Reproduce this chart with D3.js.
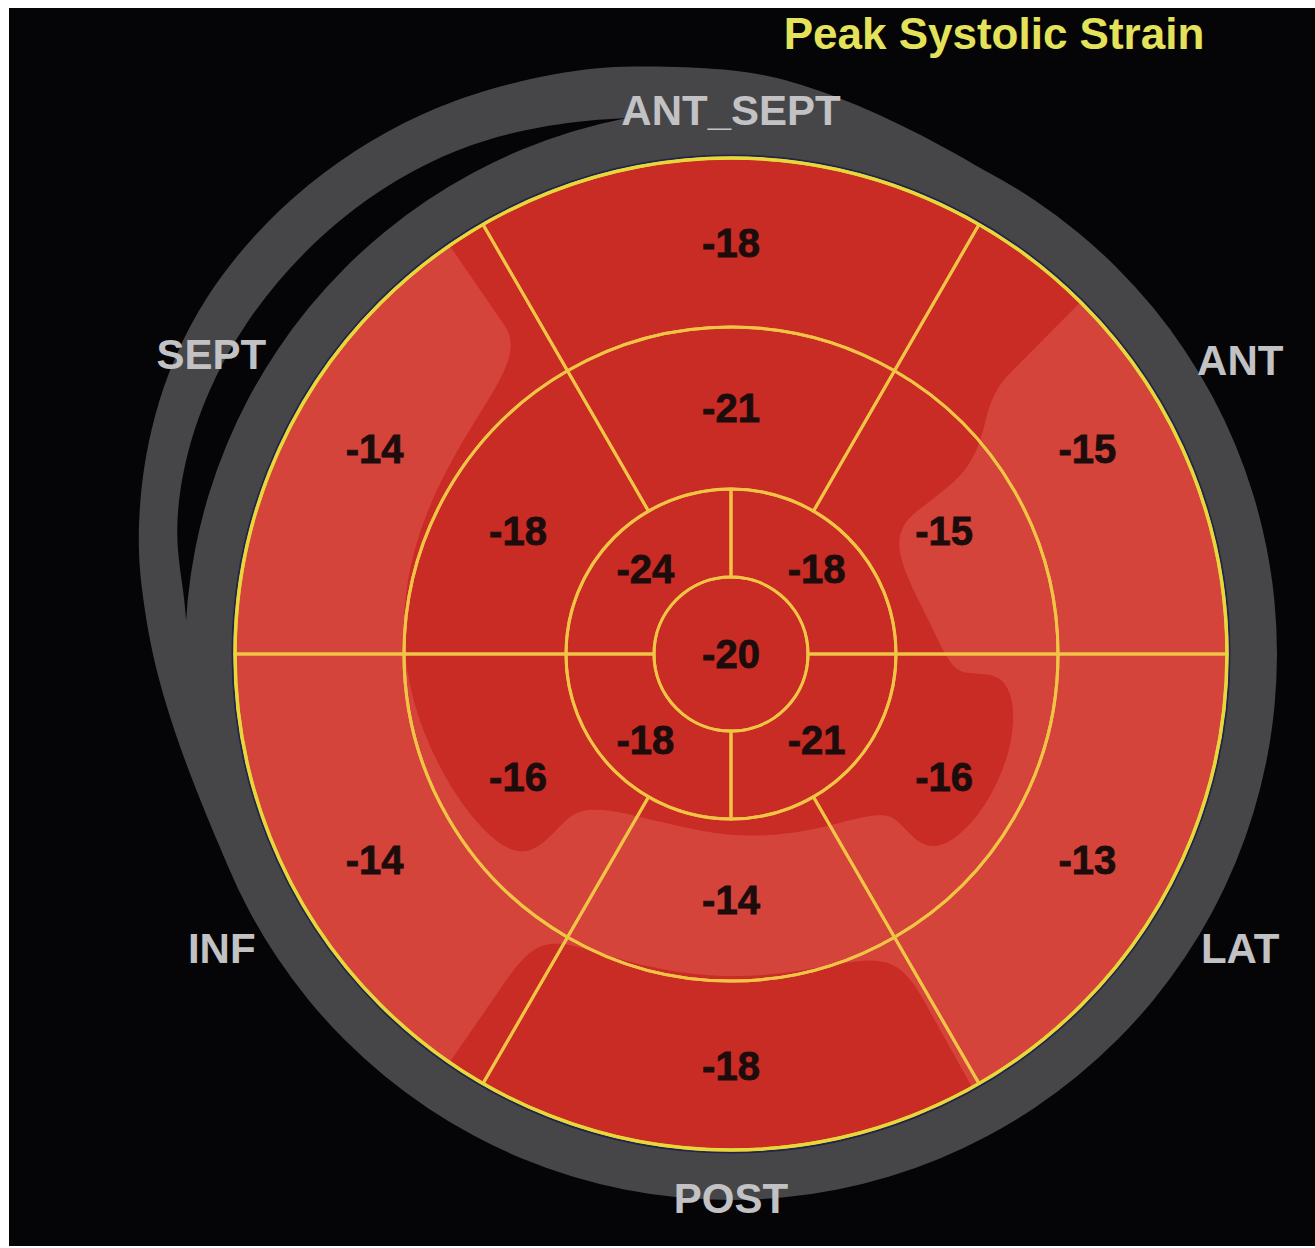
<!DOCTYPE html>
<html>
<head>
<meta charset="utf-8">
<script src="https://cdn.jsdelivr.net/npm/d3@7"></script>
<style>
  html, body { margin: 0; padding: 0; background: #ffffff; }
  svg { display: block; }
</style>
</head>
<body>
<svg id="chart" width="1315" height="1248"></svg>
<script>
// ---- Data: peak systolic strain (%) per myocardial segment ----
const title = "Peak Systolic Strain";
const walls = ["ANT_SEPT", "ANT", "LAT", "POST", "INF", "SEPT"];
const basalStrain = [-18, -15, -13, -18, -14, -14];
const midStrain = [-21, -15, -16, -14, -16, -18];
const apicalSegments = ["AP_ANT", "AP_LAT", "AP_INF", "AP_SEPT"];
const apicalStrain = [-18, -21, -18, -24];
const apexStrain = -20;

// ---- Layout ----
const W = 1315, H = 1248;
const cx = 731, cy = 654;
const svg = d3.select("#chart");

// ring boundaries: 0 centre, 1 apex edge, 2 apical edge, 3 mid edge, 4 basal edge
const rScale = d3.scaleLinear().domain([0, 1, 2, 3, 4]).range([0, 77, 165, 327, 496]);
const angle6 = d3.scaleLinear().domain([0, 6]).range([0, 2 * Math.PI]);
const angle4 = d3.scaleLinear().domain([0, 4]).range([0, 2 * Math.PI]);
const deg = d => d * Math.PI / 180;

// colour map: two tones of red around a strain cut-off (magnitude, %)
const strainColor = d3.scaleThreshold().domain([15.6]).range(["#d5443b", "#c92b25"]);

// segment table
const segments = [];
walls.forEach((w, i) => segments.push({ name: "BAS_" + w, value: basalStrain[i], ring: 3,
  a0: angle6(i - 0.5), a1: angle6(i + 0.5) }));
walls.forEach((w, i) => segments.push({ name: "MID_" + w, value: midStrain[i], ring: 2,
  a0: angle6(i - 0.5), a1: angle6(i + 0.5) }));
apicalSegments.forEach((n, i) => segments.push({ name: n, value: apicalStrain[i], ring: 1,
  a0: angle4(i), a1: angle4(i + 1) }));
segments.push({ name: "APEX", value: apexStrain, ring: 0, a0: 0, a1: 2 * Math.PI });

const arc = d3.arc()
  .innerRadius(d => rScale(d.ring))
  .outerRadius(d => rScale(d.ring + 1))
  .startAngle(d => d.a0)
  .endAngle(d => d.a1);

// background
svg.append("rect").attr("x", 9).attr("y", 8).attr("width", W - 9).attr("height", H - 10)
  .attr("fill", "#050507");

const g = svg.append("g").attr("transform", `translate(${cx},${cy})`);

// grey frame ring with its spiral arm on the septal side
const ringOuter = 546;
const frameGrey = "#464648";
g.append("path")
  .attr("d", d3.arc().innerRadius(rScale(4)).outerRadius(ringOuter).startAngle(0).endAngle(2 * Math.PI)())
  .attr("fill", frameGrey);

const armProfile = [
  [34, 543, 545], [24, 543, 550], [14, 543, 563], [6, 543, 577], [0, 543, 586],
  [-10, 544, 598], [-16, 556, 607], [-28, 580, 627], [-42, 591, 639], [-56, 593, 642],
  [-68, 586, 628], [-78, 571, 608], [-84, 548, 593], [-92, 543, 576], [-102, 543, 556],
  [-112, 543, 546]
];
g.append("path")
  .attr("d", d3.areaRadial()
    .angle(d => deg(d[0]))
    .innerRadius(d => d[1])
    .outerRadius(d => d[2])
    .curve(d3.curveBasis)(armProfile))
  .attr("fill", frameGrey);

// thin dark edge around the map
g.append("circle").attr("r", rScale(4) + 2).attr("fill", "none")
  .attr("stroke", "#22244a").attr("stroke-width", 3);

// ---- smooth strain map: polar segment field, blurred, split into two tones ----
const nT = 180, nR = 125, dR = 4;          // 2 degree x 4 px polar cells
const dT = 2 * Math.PI / nT;
function segmentValue(r, th) {
  if (r < rScale(1)) return apexStrain;
  if (r < rScale(2)) return apicalStrain[Math.floor(angle4.invert(th)) % 4];
  const k = Math.floor(angle6.invert((th + angle6(0.5)) % (2 * Math.PI))) % 6;
  return r < rScale(3) ? midStrain[k] : basalStrain[k];
}
let field = new Float64Array(nT * nR);
for (let j = 0; j < nR; j++)
  for (let i = 0; i < nT; i++)
    field[j * nT + i] = -segmentValue((j + 0.5) * dR, (i + 0.5) * dT);

function blurAngle(src, rad) {          // wraps around the circle
  const out = new Float64Array(src.length), w = 2 * rad + 1;
  for (let j = 0; j < nR; j++) for (let i = 0; i < nT; i++) {
    let s = 0;
    for (let k = -rad; k <= rad; k++) s += src[j * nT + ((i + k) % nT + nT) % nT];
    out[j * nT + i] = s / w;
  }
  return out;
}
function blurRadius(src, rad) {         // clamps at centre and rim
  const out = new Float64Array(src.length), w = 2 * rad + 1;
  for (let j = 0; j < nR; j++) for (let i = 0; i < nT; i++) {
    let s = 0;
    for (let k = -rad; k <= rad; k++) s += src[Math.min(nR - 1, Math.max(0, j + k)) * nT + i];
    out[j * nT + i] = s / w;
  }
  return out;
}
for (let p = 0; p < 3; p++) field = blurRadius(blurAngle(field, 8), 6);

// tile the angular axis so contours close cleanly across 0/360 degrees
const pad = 30, nTE = nT + 2 * pad;
const ext = new Array(nTE * nR);
for (let j = 0; j < nR; j++)
  for (let i = 0; i < nTE; i++)
    ext[j * nTE + i] = field[j * nT + (((i - pad) % nT) + nT) % nT];

const bands = d3.contours().size([nTE, nR]).thresholds(strainColor.domain())(ext);
function polarPath(mp) {
  let d = "";
  mp.coordinates.forEach(poly => poly.forEach(ring => {
    ring.forEach(([u, v], k) => {
      const th = (u - pad) * dT, r = v * dR;
      d += (k ? "L" : "M") + (r * Math.sin(th)).toFixed(2) + "," + (-r * Math.cos(th)).toFixed(2);
    });
    d += "Z";
  }));
  return d;
}

const defs = svg.append("defs");
defs.append("clipPath").attr("id", "mapClip")
  .append("circle").attr("r", rScale(4));

const mapG = g.append("g").attr("clip-path", "url(#mapClip)");
mapG.append("circle").attr("r", rScale(4)).attr("fill", strainColor.range()[0]);
mapG.selectAll("path.band").data(bands).join("path")
  .attr("class", "band")
  .attr("d", polarPath)
  .attr("fill", d => strainColor(d.value + 0.01));

// segment outlines
g.selectAll("path.seg").data(segments).join("path")
  .attr("class", "seg")
  .attr("d", arc)
  .attr("fill", "none")
  .attr("stroke", "#f0c444")
  .attr("stroke-width", 3)
  .attr("stroke-linejoin", "round");
g.append("circle").attr("r", rScale(4)).attr("fill", "none")
  .attr("stroke", "#e6d83a").attr("stroke-width", 3.5);

// segment values
g.selectAll("text.val").data(segments).join("text")
  .attr("class", "val")
  .attr("x", d => d.ring === 0 ? 0 : arc.centroid(d)[0])
  .attr("y", d => d.ring === 0 ? 0 : arc.centroid(d)[1])
  .attr("dy", "0.36em")
  .attr("text-anchor", "middle")
  .attr("font-family", "Liberation Sans, Arial, sans-serif")
  .attr("font-weight", "bold")
  .attr("font-size", 40)
  .attr("fill", "#1c0c0c")
  .attr("stroke", "#1c0c0c")
  .attr("stroke-width", 0.8)
  .text(d => d.value);

// wall names around the map
const wallLabelR = [544, 588, 588, 544, 588, 600];
g.selectAll("text.wall").data(walls).join("text")
  .attr("class", "wall")
  .attr("x", (d, i) => Math.sin(angle6(i)) * wallLabelR[i])
  .attr("y", (d, i) => -Math.cos(angle6(i)) * wallLabelR[i])
  .attr("dy", "0.36em")
  .attr("text-anchor", "middle")
  .attr("font-family", "Liberation Sans, Arial, sans-serif")
  .attr("font-weight", "bold")
  .attr("font-size", 42)
  .attr("fill", "#c2c2c4")
  .text(d => d);

// title
svg.append("text")
  .attr("x", 994).attr("y", 49)
  .attr("text-anchor", "middle")
  .attr("font-family", "Liberation Sans, Arial, sans-serif")
  .attr("font-weight", "bold")
  .attr("font-size", 44)
  .attr("fill", "#e4e25a")
  .text(title);
</script>
</body>
</html>
